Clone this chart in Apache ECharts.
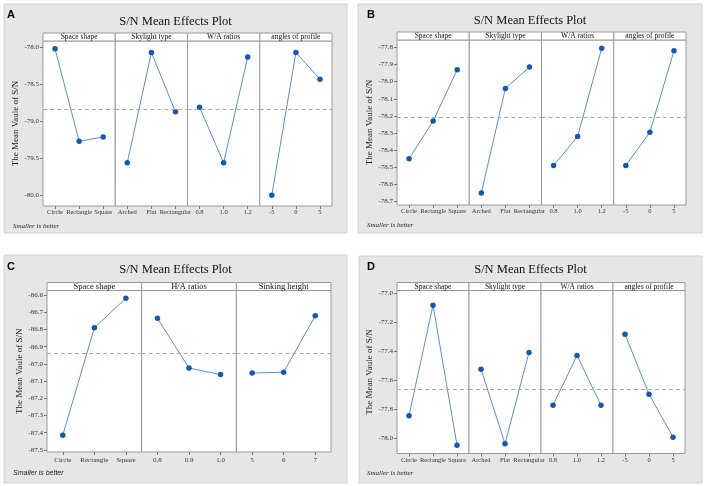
<!DOCTYPE html>
<html><head><meta charset="utf-8">
<script src="https://cdn.jsdelivr.net/npm/echarts@6/dist/echarts.min.js"></script>
<style>html,body{margin:0;padding:0;background:#fff}#c{width:708px;height:486px}</style>
</head><body><div id="c"></div>
<script>
// ---------- data ----------
const titleText = 'S/N Mean Effects Plot';
const yName = 'The Mean Vaule of S/N';
const noteText = 'Smaller is better';

const aFactors = ['Space shape', 'Skylight type', 'W/A ratios', 'angles of profile'];
const aLevels = [['Circle', 'Rectangle', 'Square'], ['Arched', 'Flat', 'Rectangular'], ['0.8', '1.0', '1.2'], ['-5', '0', '5']];
const aValues = [[-78.02, -79.27, -79.21], [-79.56, -78.07, -78.87], [-78.81, -79.56, -78.13], [-80.00, -78.07, -78.43]];
const aMean = -78.84;
const aTicks = [-78.0, -78.5, -79.0, -79.5, -80.0];

const bFactors = ['Space shape', 'Skylight type', 'W/A ratios', 'angles of profile'];
const bLevels = [['Circle', 'Rectangle', 'Square'], ['Arched', 'Flat', 'Rectangular'], ['0.8', '1.0', '1.2'], ['-5', '0', '5']];
const bValues = [[-78.45, -78.23, -77.93], [-78.65, -78.04, -77.915], [-78.49, -78.32, -77.805], [-78.49, -78.295, -77.82]];
const bMean = -78.207;
const bTicks = [-77.8, -77.9, -78.0, -78.1, -78.2, -78.3, -78.4, -78.5, -78.6, -78.7];

const cFactors = ['Space shape', 'H/A ratios', 'Sinking height'];
const cLevels = [['Circle', 'Rectangle', 'Square'], ['0.8', '0.9', '1.0'], ['5', '6', '7']];
const cValues = [[-87.415, -86.79, -86.618], [-86.735, -87.024, -87.062], [-87.053, -87.048, -86.72]];
const cMean = -86.943;
const cTicks = [-86.6, -86.7, -86.8, -86.9, -87.0, -87.1, -87.2, -87.3, -87.4, -87.5];

const dFactors = ['Space shape', 'Skylight type', 'W/A ratios', 'angles of profile'];
const dLevels = [['Circle', 'Rectangle', 'Square'], ['Arched', 'Flat', 'Rectangular'], ['0.8', '1.0', '1.2'], ['-5', '0', '5']];
const dValues = [[-77.846, -77.081, -78.05], [-77.524, -78.04, -77.408], [-77.773, -77.429, -77.773], [-77.282, -77.697, -77.995]];
const dMean = -77.66;
const dTicks = [-77.0, -77.2, -77.4, -77.6, -77.8, -78.0];

// ---------- layout ----------
const SERIF = '"Liberation Serif", "Times New Roman", serif';
const SANS = '"Liberation Sans", Arial, sans-serif';
const panels = [
  { letter: 'A', factors: aFactors, levels: aLevels, values: aValues, mean: aMean, ticks: aTicks,
    box: [4, 4, 343, 229], l: 43, r: 332, st: 33, t: 41, b: 206, yr: [-80.144, -77.914],
    titleY: 21.5, letterXY: [7, 9], noteXY: [13, 226], noteFont: SERIF, xMargin: 3, stripFs: 7.5, tickFs: 6.5 },
  { letter: 'B', factors: bFactors, levels: bLevels, values: bValues, mean: bMean, ticks: bTicks,
    box: [358, 4, 344, 229], l: 397, r: 686, st: 32, t: 40, b: 205, yr: [-78.720, -77.757],
    titleY: 20.5, letterXY: [367, 9], noteXY: [367, 225], noteFont: SERIF, xMargin: 3, stripFs: 7.5, tickFs: 6.5 },
  { letter: 'C', factors: cFactors, levels: cLevels, values: cValues, mean: cMean, ticks: cTicks,
    box: [4, 255, 343, 228], l: 47, r: 331, st: 282.5, t: 290.5, b: 452, yr: [-87.512, -86.573],
    titleY: 270, letterXY: [7, 261], noteXY: [13, 473], noteFont: SANS, xMargin: 5, stripFs: 8.5, tickFs: 7 },
  { letter: 'D', factors: dFactors, levels: dLevels, values: dValues, mean: dMean, ticks: dTicks,
    box: [359, 256, 343, 227], l: 397, r: 685, st: 282.5, t: 290.5, b: 453.5, yr: [-78.108, -76.979],
    titleY: 270, letterXY: [367, 261], noteXY: [367, 473.5], noteFont: SERIF, xMargin: 3.5, stripFs: 7.5, tickFs: 6.5 }
];

const grids = [], xAxes = [], yAxes = [], series = [], graphics = [];
const LINE = '#5a8fc8', DOT = '#1558ad', BORDER = '#9a9a9a';

panels.forEach(p => {
  const [bx, by, bw, bh] = p.box;
  graphics.push({ type: 'rect', z: -10, shape: { x: bx, y: by, width: bw, height: bh },
    style: { fill: '#e6e6e6', stroke: '#d2d2d2', lineWidth: 1 } });
  graphics.push({ type: 'text', z: 10, x: p.letterXY[0], y: p.letterXY[1],
    style: { text: p.letter, font: 'bold 11px ' + SANS, fill: '#000' } });
  graphics.push({ type: 'text', z: 10, x: bx + bw / 2, y: p.titleY,
    style: { text: titleText, font: '12.5px ' + SERIF, fill: '#111', align: 'center', verticalAlign: 'middle' } });
  graphics.push({ type: 'text', z: 10, x: p.noteXY[0], y: p.noteXY[1],
    style: { text: noteText, font: 'italic 7px ' + p.noteFont, fill: '#222', verticalAlign: 'middle' } });
  const n = p.factors.length;
  const w = (p.r - p.l) / n;
  p.factors.forEach((f, i) => {
    const gx = p.l + i * w;
    graphics.push({ type: 'rect', z: 10, shape: { x: gx, y: p.st, width: w, height: p.t - p.st },
      style: { fill: '#fff', stroke: BORDER, lineWidth: 1 } });
    graphics.push({ type: 'text', z: 11, x: gx + w / 2, y: (p.st + p.t) / 2 + 0.5,
      style: { text: f, font: p.stripFs + 'px ' + SERIF, fill: '#111', align: 'center', verticalAlign: 'middle' } });
    const idx = grids.length;
    grids.push({ left: gx, top: p.t, width: w, height: p.b - p.t, show: true,
      backgroundColor: '#fff', borderColor: BORDER, borderWidth: 1, containLabel: false });
    xAxes.push({ type: 'category', gridIndex: idx, data: p.levels[i], boundaryGap: true,
      axisLine: { show: false },
      axisTick: { show: true, alignWithLabel: true, length: 3, lineStyle: { color: '#777' } },
      axisLabel: { interval: 0, fontSize: p.tickFs, fontFamily: SERIF, color: '#333', margin: p.xMargin, hideOverlap: false },
      splitLine: { show: false } });
    yAxes.push({ type: 'value', gridIndex: idx, min: p.yr[0], max: p.yr[1],
      axisLine: { show: false }, splitLine: { show: false },
      axisTick: { show: i === 0, customValues: p.ticks, length: 3, lineStyle: { color: '#777' } },
      axisLabel: { show: i === 0, customValues: p.ticks, formatter: v => v.toFixed(1),
        fontSize: 7, fontFamily: SERIF, color: '#333', margin: 4 },
      name: i === 0 ? yName : '', nameLocation: 'middle', nameRotate: 90, nameGap: 19,
      nameTextStyle: { fontSize: 9, fontFamily: SERIF, color: '#222' } });
    series.push({ type: 'line', xAxisIndex: idx, yAxisIndex: idx, data: p.values[i],
      symbol: 'circle', symbolSize: 5.5, showSymbol: true,
      lineStyle: { color: LINE, width: 1 }, itemStyle: { color: DOT },
      markLine: { silent: true, symbol: 'none', label: { show: false },
        lineStyle: { type: [4, 3], color: '#a8a8a8', width: 1 },
        data: [{ yAxis: p.mean }] } });
  });
});

const chart = echarts.init(document.getElementById('c'), null, { renderer: 'canvas' });
chart.setOption({
  animation: false,
  backgroundColor: '#fff',
  grid: grids, xAxis: xAxes, yAxis: yAxes, series: series,
  graphic: { elements: graphics }
});
</script></body></html>
